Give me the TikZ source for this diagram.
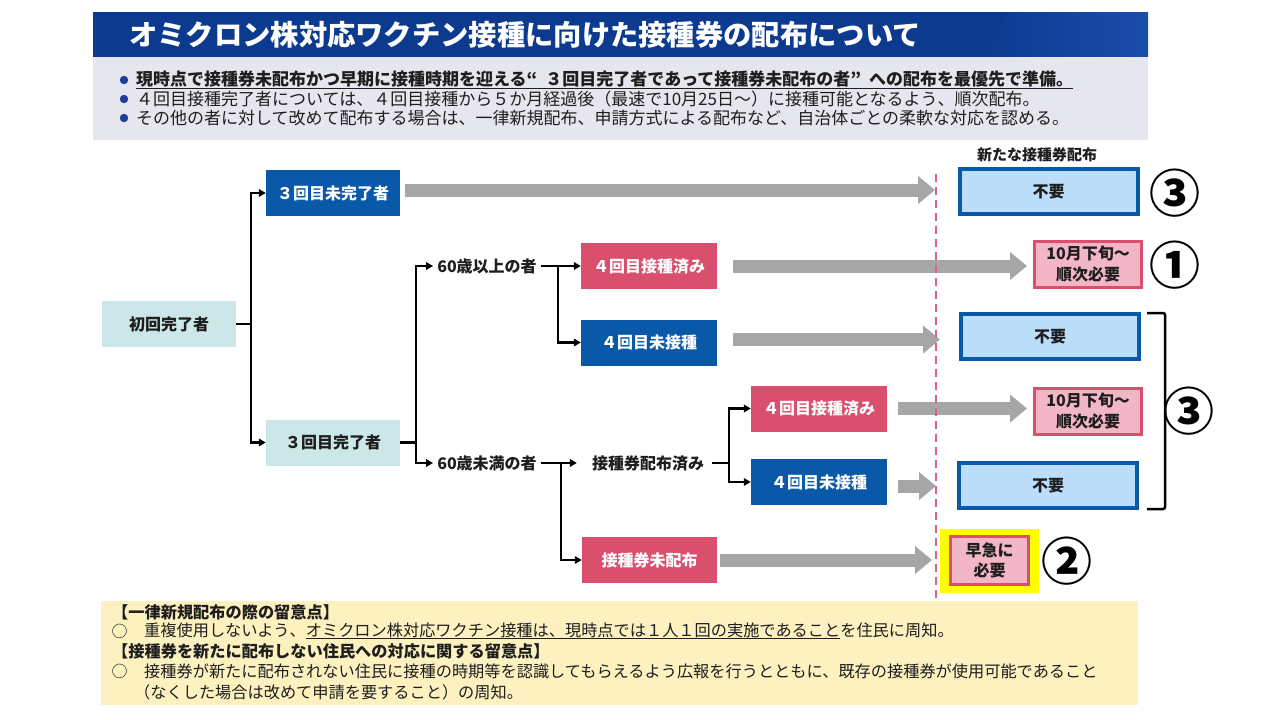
\documentclass[tikz,border=0pt]{standalone}
\usepackage{fontspec}
\setmainfont{Noto Sans CJK JP}
\usetikzlibrary{arrows.meta}
\definecolor{navy}{HTML}{0B3A8E}
\definecolor{navyl}{HTML}{1A4CAB}
\definecolor{boxgray}{HTML}{E6E6EE}
\definecolor{dblue}{HTML}{0A58A8}
\definecolor{pinkr}{HTML}{D94F6D}
\definecolor{tealc}{HTML}{CBE7E8}
\definecolor{lblue}{HTML}{BDDEFB}
\definecolor{lpink}{HTML}{F3B6C6}
\definecolor{garrow}{HTML}{A6A6A6}
\definecolor{ybg}{HTML}{FDF1C0}
\definecolor{bulletc}{HTML}{1F3D96}
\definecolor{dashc}{HTML}{E0607F}
\definecolor{txt}{HTML}{1E1E1E}
\definecolor{yel}{HTML}{FFFF00}
\newcommand\fsz[1]{\fontsize{#1}{#1}\selectfont}
\newcommand\myul[1]{\setbox0\hbox{#1}\rlap{\rule[-3pt]{\wd0}{1.1pt}}\box0}
\tikzset{
  tealbox/.style={fill=tealc, minimum width=134pt, minimum height=46pt, inner sep=0pt, font=\bfseries\fsz{16}, text=txt},
  bluebox/.style={fill=dblue, minimum width=136pt, minimum height=46pt, inner sep=0pt, font=\bfseries\fsz{16}, text=white},
  pinkbox/.style={fill=pinkr, minimum width=136pt, minimum height=46pt, inner sep=0pt, font=\bfseries\fsz{16}, text=white},
  notbox/.style={fill=lblue, draw=dblue, line width=4pt, minimum width=178pt, minimum height=45pt, inner sep=0pt, font=\bfseries\fsz{16}, text=txt},
  needbox/.style={fill=lpink, draw=pinkr, line width=3pt, minimum width=107pt, minimum height=46pt, inner sep=0pt, align=center, font=\bfseries\fontsize{16}{21}\selectfont, text=txt},
  lbl/.style={font=\bfseries\fsz{16}, inner sep=0pt, text=txt},
  conn/.style={line width=2.2pt, black},
  carr/.style={conn, -{Triangle[length=7pt,width=7.5pt]}},
  garr/.style={draw=garrow, line width=13pt, -{Triangle[length=17pt,width=27pt]}},
  num/.style={font=\bfseries\fsz{51}, inner sep=0pt, text=black},
  ltext/.style={anchor=west, inner sep=0pt, text=txt}
}
\begin{document}
\begin{tikzpicture}[x=1pt,y=-1pt]
\path[use as bounding box, fill=white] (0,0) rectangle (1280,720);
% title bar
\fill[navy] (93,12) rectangle (1148,57);
\shade[left color=navy, right color=navyl] (975,57) -- (1010,12) -- (1148,12) -- (1148,57) -- cycle;
\node[ltext, text=white, font=\bfseries\fsz{28.3}] (title) at (129,35) {オミクロン株対応ワクチン接種に向けた接種券の配布について};
% summary box
\fill[boxgray] (93,57) rectangle (1148,140);
\fill[bulletc] (124,80) circle (4.2pt);
\fill[bulletc] (124,99) circle (4.2pt);
\fill[bulletc] (124,118) circle (4.2pt);
\node[ltext, font=\bfseries\fsz{17}] (g1) at (136,80) {\myul{現時点で接種券未配布かつ早期に接種時期を迎える“\hspace{8pt}３回目完了者であって接種券未配布の者”\hspace{8pt}への配布を最優先で準備。}};
\node[ltext, font=\fsz{17}] (g2) at (136,99) {４回目接種完了者については、４回目接種から５か月経過後（最速で10月25日～）に接種可能となるよう、順次配布。};
\node[ltext, font=\fsz{17}] (g3) at (136,118) {その他の者に対して改めて配布する場合は、一律新規配布、申請方式による配布など、自治体ごとの柔軟な対応を認める。};
% flow nodes
\node[tealbox] (shoki) at (169,324) {初回完了者};
\node[bluebox, minimum width=134pt] (m3) at (333,193) {３回目未完了者};
\node[tealbox] (k3) at (333,442.5) {３回目完了者};
\node[lbl, inner xsep=4pt] (o60) at (487,266) {60歳以上の者};
\node[lbl, inner xsep=4pt] (u60) at (487,463) {60歳未満の者};
\node[pinkbox] (a4d) at (649,266) {４回目接種済み};
\node[bluebox] (a4n) at (649,342.5) {４回目未接種};
\node[lbl] (hd) at (648,463) {接種券配布済み};
\node[pinkbox] (b4d) at (819,408.5) {４回目接種済み};
\node[bluebox] (b4n) at (819,482) {４回目未接種};
\node[pinkbox, minimum width=135pt] (nd) at (649.5,560) {接種券未配布};
% right column
\node[font=\bfseries\fsz{15}, inner sep=0pt, text=txt] (hdr) at (1037,155) {新たな接種券配布};
\node[notbox] (r1) at (1048.5,191.5) {不要};
\node[needbox] (r2) at (1088,264) {10月下旬～\\順次必要};
\node[notbox] (r3) at (1050,336.5) {不要};
\node[needbox] (r4) at (1088,411) {10月下旬～\\順次必要};
\node[notbox] (r5) at (1048,485.5) {不要};
\fill[yel] (940,529) rectangle (1039,593);
\node[needbox, minimum width=78pt, minimum height=48pt, font=\bfseries\fontsize{16}{20}\selectfont] (r6) at (989.5,560.5) {早急に\\必要};
\node[num] (c1) at (1175,193) {③};
\node[num] (c2) at (1175,265) {①};
\node[num] (c3) at (1189,411) {③};
\node[num] (c4) at (1067,561) {②};
\draw[line width=2.5pt, rounded corners=2pt] (1147,313) -- (1165,313) -- (1165,509) -- (1147,509);
% gray arrows
\coordinate (tA) at (935,0);
\coordinate (tB) at (940,0);
\coordinate (tC) at (936,0);
\coordinate (tD) at (932,0);
\draw[garr] ([xshift=5pt,yshift=3pt]m3.east) -- ([yshift=3pt]m3.east -| tA);
\draw[garr] ([xshift=16pt]a4d.east) -- ([xshift=-6pt]a4d.east -| r2.west);
\draw[garr] ([xshift=16pt,yshift=3pt]a4n.east) -- ([yshift=3pt]a4n.east -| tB);
\draw[garr] ([xshift=11pt]b4d.east) -- ([xshift=-6pt]b4d.east -| r4.west);
\draw[garr] ([xshift=11pt,yshift=-4pt]b4n.east) -- ([yshift=-4pt]b4n.east -| tC);
\draw[garr] ([xshift=3pt]nd.east) -- (nd.east -| tD);
% dashed divider
\draw[dashc, line width=2pt, dash pattern=on 8pt off 5pt] (936,174) -- (936,600);
% black connectors
\coordinate (j1) at (251,324);
\draw[conn] (shoki.east) -- (j1);
\draw[carr] (j1) |- (m3.west);
\draw[carr] (j1) |- (k3.west);
\coordinate (j2) at (416,442.5);
\draw[conn] (k3.east) -- (j2);
\draw[carr] (j2) |- (o60.west);
\draw[carr] (j2) |- (u60.west);
\coordinate (j3) at (558,266);
\draw[conn] (o60.east) -- (j3);
\draw[carr] (j3) -- (a4d.west);
\draw[carr] (j3) |- (a4n.west);
\coordinate (j4) at (561,463);
\draw[carr] (u60.east) -- ([xshift=-15pt]hd.west);
\draw[carr] (j4) |- (nd.west);
\coordinate (j5) at (729,463);
\draw[conn] ([xshift=8pt]hd.east) -- (j5);
\draw[carr] (j5) |- (b4d.west);
\draw[carr] (j5) |- (b4n.west);
% notes box
\fill[ybg] (101,601) rectangle (1138,705);
\node[ltext, font=\bfseries\fsz{16.2}] (y1) at (112,612) {【一律新規配布の際の留意点】};
\node[inner sep=0pt, font=\fsz{16}, text=txt] (o1) at (119.5,631) {○};
\node[ltext, font=\fsz{16.2}] (y2) at (144,631) {重複使用しないよう、\myul{オミクロン株対応ワクチン接種は、現時点では１人１回の実施であること}を住民に周知。};
\node[ltext, font=\bfseries\fsz{16.2}] (y3) at (112,651) {【接種券を新たに配布しない住民への対応に関する留意点】};
\node[inner sep=0pt, font=\fsz{16}, text=txt] (o2) at (119.5,671) {○};
\node[ltext, font=\fsz{16.2}] (y4) at (144,671) {接種券が新たに配布されない住民に接種の時期等を認識してもらえるよう広報を行うとともに、既存の接種券が使用可能であること};
\node[ltext, font=\fsz{16.2}] (y5) at (134,692) {（なくした場合は改めて申請を要すること）の周知。};
\end{tikzpicture}
\end{document}
